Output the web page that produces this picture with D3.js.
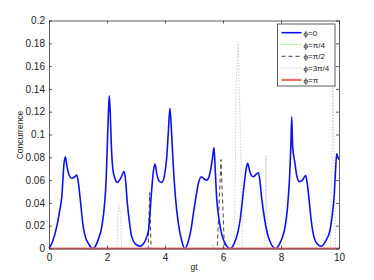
<!DOCTYPE html>
<html>
<head>
<meta charset="utf-8">
<script src="https://cdn.jsdelivr.net/npm/d3@7"></script>
<style>
  body { margin: 0; background: #fff; }
  svg text { font-family: "Liberation Sans", Arial, sans-serif; fill: #222; }
</style>
</head>
<body>
<svg id="chart" width="374" height="280"></svg>
<script>
// values: [gt, concurrence]
var phi0 = [[0,0],[0.12,0.006],[0.265,0.019],[0.36,0.032],[0.44,0.045],[0.52,0.075],[0.565,0.0805],[0.62,0.072],[0.7,0.064],[0.78,0.0616],[0.87,0.0625],[0.955,0.0645],[1.0,0.06],[1.07,0.045],[1.18,0.019],[1.27,0.009],[1.36,0.0045],[1.5,0],
  [1.6,0.002],[1.7,0.008],[1.82,0.019],[1.92,0.04],[1.97,0.06],[2.01,0.09],[2.05,0.12],[2.08,0.134],[2.11,0.12],[2.15,0.09],[2.2,0.07],[2.28,0.061],[2.36,0.058],[2.48,0.062],[2.59,0.0675],[2.64,0.06],[2.7,0.04],[2.78,0.022],[2.85,0.0104],[2.98,0.004],[3.14,0.002],
  [3.3,0.006],[3.43,0.016],[3.54,0.051],[3.6,0.068],[3.655,0.074],[3.72,0.065],[3.8,0.059],[3.89,0.058],[3.98,0.064],[4.06,0.08],[4.11,0.1],[4.17,0.123],[4.23,0.1],[4.28,0.075],[4.35,0.048],[4.46,0.022],[4.57,0.0075],[4.68,0],
  [4.8,0.006],[4.9,0.017],[4.98,0.031],[5.08,0.047],[5.15,0.057],[5.26,0.063],[5.35,0.061],[5.44,0.06],[5.55,0.066],[5.63,0.078],[5.69,0.0885],[5.73,0.07],[5.78,0.045],[5.86,0.026],[5.95,0.013],[6.08,0.004],[6.25,0],
  [6.38,0.004],[6.5,0.013],[6.59,0.025],[6.66,0.04],[6.72,0.054],[6.8,0.07],[6.85,0.0747],[6.92,0.068],[6.98,0.064],[7.05,0.063],[7.14,0.065],[7.22,0.0665],[7.27,0.06],[7.33,0.045],[7.44,0.025],[7.56,0.0104],[7.68,0.003],[7.82,0],
  [7.95,0.004],[8.05,0.01],[8.14,0.019],[8.22,0.035],[8.29,0.06],[8.34,0.09],[8.37,0.1156],[8.4,0.09],[8.48,0.075],[8.55,0.063],[8.63,0.0586],[8.74,0.06],[8.85,0.064],[8.9,0.058],[8.98,0.04],[9.04,0.025],[9.11,0.013],[9.25,0.004],[9.4,0.002],
  [9.55,0.007],[9.69,0.016],[9.77,0.03],[9.83,0.045],[9.88,0.068],[9.92,0.083],[9.96,0.08],[10,0.078]];
var phiQuarter = [[0,0],[5.6,0],[5.66,0.003],[5.72,0],[10,0]];
var phiHalf = [[0,0],[3.42,0],[3.47,0.049],[3.52,0],[5.8,0],[5.93,0.078],[6.05,0],[10,0]];
var phiThreeQuarter = [[0,0],[2.35,0],[2.37,0.03],[2.42,0.038],[2.48,0.03],[2.5,0],
  [6.4,0],[6.45,0.14],[6.52,0.181],[6.6,0.1],[6.68,0],
  [7.44,0],[7.48,0.082],[7.53,0],
  [9.7,0],[9.79,0.142],[9.88,0],[10,0]];
var phiPi = [[0,0],[10,0]];

var legendLabels = ["ϕ=0", "ϕ=π/4", "ϕ=π/2", "ϕ=3π/4", "ϕ=π"];
var xTicks = [0, 2, 4, 6, 8, 10];
var yTicks = [0, 0.02, 0.04, 0.06, 0.08, 0.1, 0.12, 0.14, 0.16, 0.18, 0.2];

var svg = d3.select("#chart");
var plotLeft = 49, plotRight = 339, plotTop = 20.5, plotBottom = 248.5;

var x = d3.scaleLinear().domain([0, 10]).range([plotLeft, plotRight]);
var y = d3.scaleLinear().domain([0, 0.2]).range([plotBottom, plotTop]);

// series styles (MATLAB-ish)
var series = [
  {data: phiQuarter, color: "#33ee33", width: 1, dash: "1,2", curve: d3.curveLinear},
  {data: phiHalf, color: "#444", width: 1, dash: "4,3", curve: d3.curveLinear},
  {data: phiThreeQuarter, color: "#b8b8b8", width: 1, dash: "1,2", curve: d3.curveLinear},
  {data: phi0, color: "#1010ee", width: 1.6, dash: null, curve: d3.curveMonotoneX},
  {data: phiPi, color: "#f07070", width: 2.2, dash: null, curve: d3.curveLinear}
];

var plot = svg.append("g");
series.forEach(function(s) {
  var line = d3.line().x(d => x(d[0])).y(d => y(d[1])).curve(s.curve);
  plot.append("path")
    .datum(s.data)
    .attr("d", line)
    .attr("fill", "none")
    .attr("stroke", s.color)
    .attr("stroke-width", s.width)
    .attr("stroke-dasharray", s.dash);
});

// axes, ticks pointing inward
var ax = svg.append("g").style("font-size", "8px");
ax.append("g").attr("transform", "translate(0," + plotBottom + ")")
  .call(d3.axisBottom(x).tickValues(xTicks).tickSizeInner(-3).tickSizeOuter(0).tickPadding(5).tickFormat(d3.format("d")));
ax.append("g").attr("transform", "translate(0," + plotTop + ")")
  .call(d3.axisTop(x).tickValues(xTicks).tickSizeInner(-3).tickSizeOuter(0).tickFormat(""));
ax.append("g").attr("transform", "translate(" + plotLeft + ",0)")
  .call(d3.axisLeft(y).tickValues(yTicks).tickSizeInner(-3).tickSizeOuter(0).tickPadding(4).tickFormat(d => d === 0 ? "0" : String(+d.toFixed(2))));
ax.append("g").attr("transform", "translate(" + plotRight + ",0)")
  .call(d3.axisRight(y).tickValues(yTicks).tickSizeInner(-3).tickSizeOuter(0).tickFormat(""));
ax.selectAll(".domain, .tick line").attr("stroke", "#333").attr("stroke-width", 0.8);
ax.selectAll("text").attr("fill", "#222").attr("font-family", "'Liberation Sans', Arial, sans-serif");

// axis titles
svg.append("text").attr("x", 194).attr("y", 270).attr("text-anchor", "middle")
  .style("font-size", "8.5px").text("gt");
svg.append("text").attr("transform", "translate(23,135) rotate(-90)").attr("text-anchor", "middle")
  .style("font-size", "8.5px").text("Concurrence");

// legend
var lg = svg.append("g");
lg.append("rect").attr("x", 277.5).attr("y", 24).attr("width", 57.5).attr("height", 62)
  .attr("fill", "#fff").attr("stroke", "#333").attr("stroke-width", 0.8);
var order = [3, 0, 1, 2, 4];
legendLabels.forEach(function(lab, i) {
  var s = series[order[i]];
  var yy = 32.7 + i * 11.8;
  lg.append("line").attr("x1", 281.5).attr("x2", 301.5).attr("y1", yy).attr("y2", yy)
    .attr("stroke", s.color).attr("stroke-width", s.width).attr("stroke-dasharray", s.dash);
  lg.append("text").attr("x", 303.5).attr("y", yy + 3).style("font-size", "8px").text(lab);
});
</script>
</body>
</html>
